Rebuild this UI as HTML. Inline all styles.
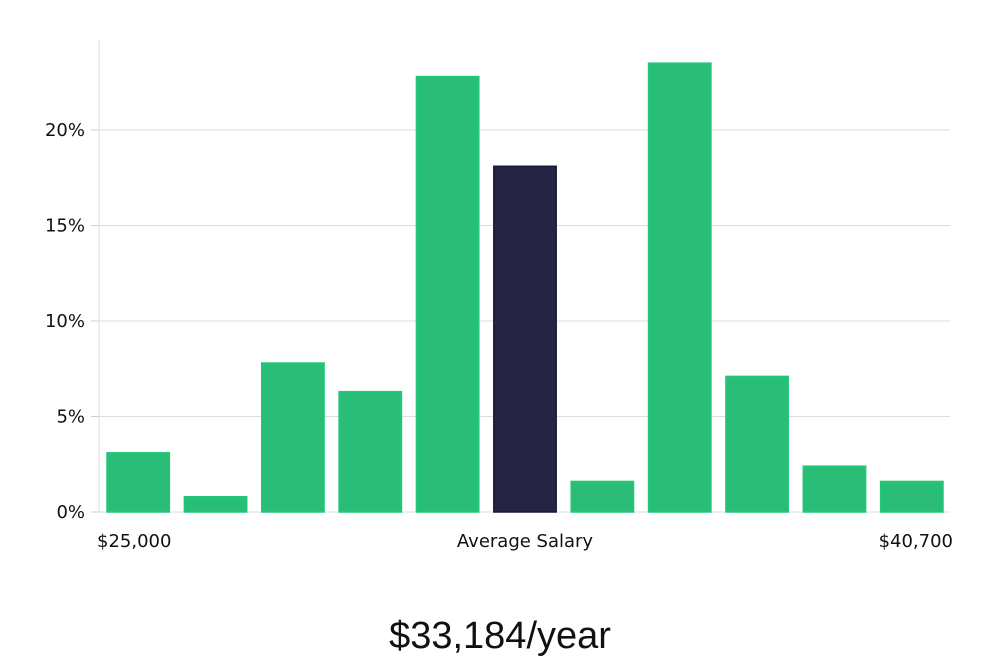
<!DOCTYPE html>
<html><head><meta charset="utf-8"><style>
body{margin:0;width:1000px;height:660px;background:#fff;overflow:hidden;font-family:"DejaVu Sans","Liberation Sans",sans-serif}
svg text{font-family:"DejaVu Sans","Liberation Sans",sans-serif}
</style></head><body>
<svg id="chart" width="1000" height="660" xmlns="http://www.w3.org/2000/svg"></svg>
<script>
const categories=["b1","b2","b3","b4","b5","b6","b7","b8","b9","b10","b11"];
const values=[3.1,0.8,7.8,6.3,22.8,18.1,1.6,23.5,7.1,2.4,1.6];
const highlight=[false,false,false,false,false,true,false,false,false,false,false];
const yTicks=[0,5,10,15,20];
const yTickLabels=["0%","5%","10%","15%","20%"];
const NS="http://www.w3.org/2000/svg";
const svg=document.getElementById('chart');
const L=99,R=950,T=40,B=512,yMax=(512-40)/19.1;
const y=v=>B-v/yMax*(B-T);
const band=(R-L)/categories.length;
const x=i=>L+i*band;
function mk(t,a){const e=document.createElementNS(NS,t);for(const k in a)e.setAttribute(k,a[k]);svg.appendChild(e);return e;}
yTicks.forEach((t,i)=>{
 const g=mk('line',{x1:L,x2:R,y1:y(t),y2:y(t),stroke:'#dddddd','stroke-width':1});
 
 
 const tk=mk('line',{x1:L-8,x2:L,y1:y(t),y2:y(t),stroke:'#cccccc'});
 
 
 const tx=mk('text',{x:L-14,y:y(t)+6,'text-anchor':'end','font-size':18,fill:'#111'});
 tx.textContent=yTickLabels[i];
 
 
});
const ax=mk('line',{x1:L,x2:L,y1:T,y2:B,stroke:'#dddddd'});


values.forEach((v,i)=>{
 const hl=highlight[i];
 const r=mk('rect',{x:x(i)+8,y:y(v),width:band-15,height:B-y(v),fill:hl?'#262445':'#2abd77',stroke:hl?'#1a1838':'#22c878','stroke-width':1.5});
 
 
});
function label(txt,xx,anchor,name){const t=mk('text',{x:xx,y:547,'text-anchor':anchor,'font-size':18,fill:'#111'});t.textContent=txt;
 
 }
label('$25,000',97,'start','x-label-min');
label('Average Salary',525,'middle','x-label-average');
label('$40,700',953,'end','x-label-max');
const ti=mk('text',{x:500,y:648,'text-anchor':'middle','font-size':38,fill:'#111','font-weight':300});
ti.setAttribute('style','font-family:"Liberation Sans",sans-serif;font-weight:300');
ti.textContent='$33,184/year';


</script>
</body></html>
